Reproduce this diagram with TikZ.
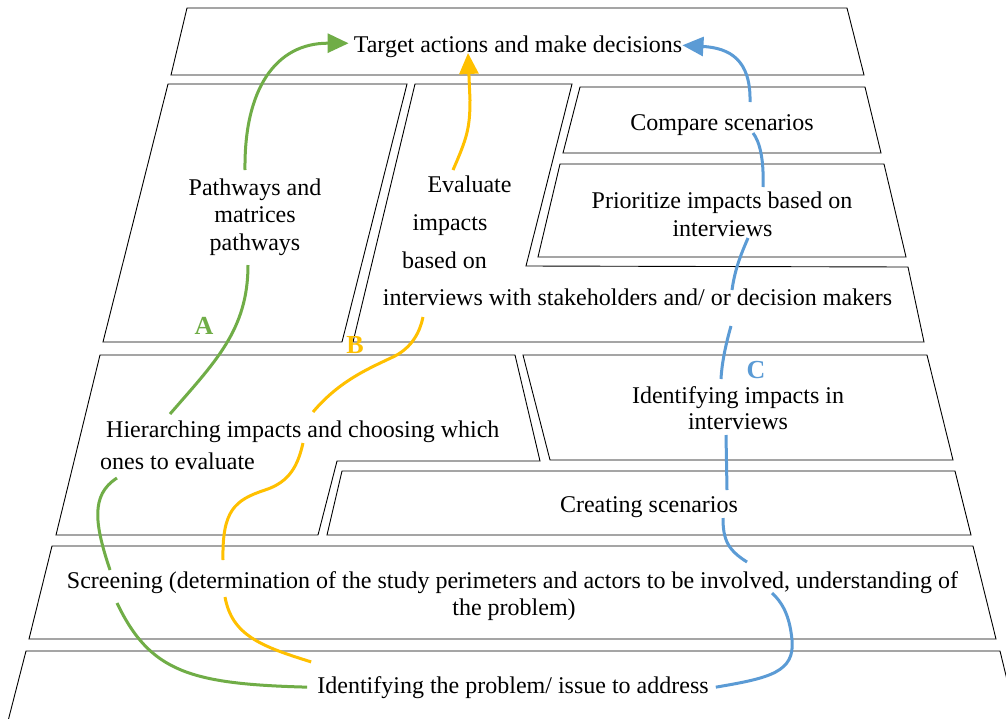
\documentclass[tikz,border=0pt]{standalone}
\usepackage{fontspec}
\setmainfont{Liberation Serif}
\usetikzlibrary{arrows.meta}
\definecolor{grn}{HTML}{70AD47}
\definecolor{yel}{HTML}{FFC000}
\definecolor{blu}{HTML}{5B9BD5}
\begin{document}
\begin{tikzpicture}[x=1pt,y=-1pt,
  box/.style={draw=black,line width=0.9pt,line join=miter},
  lbl/.style={font=\fontsize{24}{28}\selectfont,inner sep=2pt,anchor=base},
  lbw/.style={lbl,anchor=base west},
  tag/.style={font=\fontsize{26}{30}\selectfont\bfseries,inner sep=0pt,anchor=base},
  curve/.style={line width=3pt,line cap=butt},
  tip/.style={-{Triangle[length=21pt,width=19pt]}}]
\useasboundingbox (0,0) rectangle (1006,718);
\fill[white] (0,0) rectangle (1006,718);
\clip (0,0) rectangle (1006,718);

% shapes
\draw[box] (187,8) -- (847,8) -- (864,75) -- (171,75) -- cycle;
\draw[box] (168,84) -- (407,84) -- (342,342) -- (103,342) -- cycle;
\draw[box] (415,84) -- (572,84) -- (526,266) -- (908,267) -- (924,342) -- (353,342) -- cycle;
\draw[box] (580,87) -- (865,87) -- (881,153) -- (563,153) -- cycle;
\draw[box] (560,164) -- (884,164) -- (906,257) -- (538,257) -- cycle;
\draw[box] (100,355) -- (515,355) -- (540,461) -- (337,461) -- (318,535) -- (56,535) -- cycle;
\draw[box] (523,355) -- (927,355) -- (953,460) -- (550,460) -- cycle;
\draw[box] (342,471) -- (955,471) -- (971,535) -- (327,535) -- cycle;
\draw[box] (52,546) -- (973,546) -- (996,639) -- (29,639) -- cycle;
\draw[box] (26,651) -- (1000,651) -- (1018,725) -- (7,725) -- cycle;

% texts
\node[lbl] (target) at (518,52) {Target actions and make decisions};
\node[lbl] (path1) at (255,195) {Pathways and};
\node[lbl] (path2) at (255,222) {matrices};
\node[lbl] (path3) at (255,250) {pathways};
\node[lbl] (eval1) at (469.5,192) {Evaluate};
\node[lbl] (eval2) at (450,230) {impacts};
\node[lbl] (eval3) at (444.5,268) {based on};
\node[lbl] (eval4) at (637.5,305) {interviews with stakeholders and/ or decision makers};
\node[lbl] (compare) at (722,130) {Compare scenarios};
\node[lbl] (prio1) at (722,208) {Prioritize impacts based on};
\node[lbl] (prio2) at (722.5,236) {interviews};
\node[lbw] (hier1) at (104,437) {Hierarching impacts and choosing which};
\node[lbw] (hier2) at (98,469) {ones to evaluate};
\node[lbl] (ident1) at (738,403) {Identifying impacts in};
\node[lbl] (ident2) at (738,429) {interviews};
\node[lbl] (creating) at (649,512) {Creating scenarios};
\node[lbl] (screen1) at (512.5,588) {Screening (determination of the study perimeters and actors to be involved, understanding of};
\node[lbl] (screen2) at (514,615) {the problem)};
\node[lbl] (problem) at (513,693) {Identifying the problem/ issue to address};
\coordinate (ytip) at (468,53);

% green path A
\draw[curve,grn] ([xshift=-8pt]problem.west) .. controls (190,684) and (150,672) .. (117,603)
  (110,570) .. controls (95,525) and (90,495) .. (117,478)
  (170,414) .. controls (215,362) and (248,330) .. (248,265);
\draw[curve,grn,tip] (245,170) .. controls (244,90) and (275,43) .. ([shift={(-3,-3)}]target.west);

% yellow path B
\draw[curve,yel] ([shift={(-4,-12)}]problem.north west) .. controls (260,646) and (232,635) .. (225,597)
  (223,560) .. controls (222,510) and (235,500) .. (265,490) .. controls (290,482) and (298,465) .. (303,443)
  (313,412) .. controls (340,380) and (370,368) .. (395,356) .. controls (412,347) and (420,332) .. (423,317);
\draw[curve,yel,tip] (453,170) .. controls (467,138) and (470,128) .. (470,100) -- (ytip);

% blue path C
\draw[curve,blu] ([xshift=5pt]problem.east) .. controls (770,678) and (795,672) .. (792,640) .. controls (790,620) and (785,605) .. (772,593)
  (747,562) .. controls (728,550) and (723,540) .. (723,518)
  (727,490) -- (726,435)
  (721,379) .. controls (722,360) and (727,340) .. (731,326)
  (732,290) .. controls (735,268) and (742,252) .. (748,238)
  (763,187) .. controls (764,160) and (760,142) .. (753,133);
\draw[curve,blu,tip] (750,102) .. controls (751,60) and (730,48) .. ([shift={(-2,-1)}]target.east);

% letters
\node[tag,grn] (la) at (204,334) {A};
\node[tag,yel] (lb) at (355,353) {B};
\node[tag,blu] (lc) at (756,378) {C};
\end{tikzpicture}
\end{document}
